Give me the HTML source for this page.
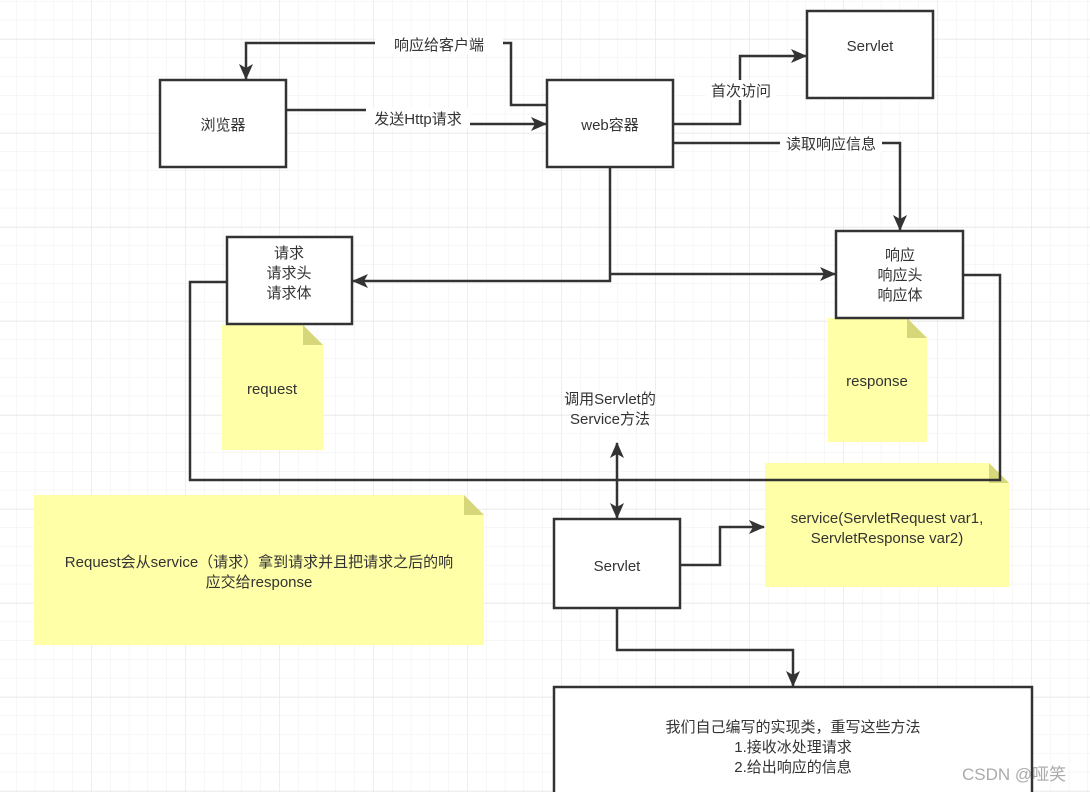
<!DOCTYPE html>
<html><head><meta charset="utf-8"><style>
html,body{margin:0;padding:0;background:#fff;}
svg{display:block;}
text{font-family:"Liberation Sans","Noto Sans CJK SC",sans-serif;font-size:15px;fill:#333;}
</style></head><body>
<svg width="1090" height="792" viewBox="0 0 1090 792" xmlns="http://www.w3.org/2000/svg">
<defs>
<pattern id="g" x="16" y="1" width="18.8" height="18.8" patternUnits="userSpaceOnUse">
<path d="M0 0H18.8M0 0V18.8" stroke="#efefef" stroke-width="1" fill="none"/>
</pattern>
<pattern id="G" x="91" y="39" width="94" height="94" patternUnits="userSpaceOnUse">
<path d="M0 0H94M0 0V94" stroke="#e6e6e6" stroke-width="1.2" fill="none"/>
</pattern>
<marker id="a" markerWidth="16" markerHeight="14" refX="15" refY="7" orient="auto" markerUnits="userSpaceOnUse"><path d="M0 0L16 7L0 14L4 7Z" fill="#333"/></marker>
</defs>
<rect width="1090" height="792" fill="url(#g)"/>
<rect width="1090" height="792" fill="url(#G)"/>

<g fill="#ffffa8">
<path d="M222 325H303L323 345V450H222Z"/>
<path d="M828 318H907L927 338V442H828Z"/>
<path d="M34 495H464L484 515V645H34Z"/>
<path d="M765 463H989L1009 483V587H765Z"/>
</g>
<g fill="#d6d67a">
<path d="M303 325L323 345H303Z"/><path d="M907 318L927 338H907Z"/>
<path d="M464 495L484 515H464Z"/><path d="M989 463L1009 483H989Z"/>
</g>

<g stroke="#333" stroke-width="2.5" fill="none">
<path d="M547 105H511V43H246V79" marker-end="url(#a)"/>
<path d="M286 110H440V124H546" marker-end="url(#a)"/>
<path d="M673 124H740V56H806" marker-end="url(#a)"/>
<path d="M673 143H900V230" marker-end="url(#a)"/>
<path d="M610 167V281H353" marker-end="url(#a)"/>
<path d="M610 274H835" marker-end="url(#a)"/>
<path d="M227 282H190V480H1000V275H963"/>
<path d="M617 480V443" marker-end="url(#a)"/>
<path d="M617 480V518" marker-end="url(#a)"/>
<path d="M680 565H720V527H764" marker-end="url(#a)"/>
<path d="M617 608V650H793V686" marker-end="url(#a)"/>
</g>

<g fill="#fff" stroke="#333" stroke-width="2.5">
<rect x="160" y="80" width="126" height="87"/>
<rect x="547" y="80" width="126" height="87"/>
<rect x="807" y="11" width="126" height="87"/>
<rect x="227" y="237" width="125" height="87"/>
<rect x="836" y="231" width="127" height="87"/>
<rect x="554" y="519" width="126" height="89"/>
<rect x="554" y="687" width="478" height="110"/>
</g>

<g fill="#fff">
<rect x="375" y="36" width="128" height="18"/>
<rect x="366" y="108" width="104" height="20"/>
<rect x="706" y="80" width="70" height="20"/>
<rect x="780" y="135" width="102" height="18"/>
</g>

<g text-anchor="middle">
<text x="439" y="50">响应给客户端</text>
<text x="418" y="124">发送Http请求</text>
<text x="741" y="96">首次访问</text>
<text x="831" y="149">读取响应信息</text>
<text x="223" y="130">浏览器</text>
<text x="610" y="130">web容器</text>
<text x="870" y="51">Servlet</text>
<text x="289" y="258">请求</text>
<text x="289" y="278">请求头</text>
<text x="289" y="298">请求体</text>
<text x="900" y="260">响应</text>
<text x="900" y="280">响应头</text>
<text x="900" y="300">响应体</text>
<text x="272" y="394">request</text>
<text x="877" y="386">response</text>
<text x="610" y="404">调用Servlet的</text>
<text x="610" y="424">Service方法</text>
<text x="259" y="567">Request会从service（请求）拿到请求并且把请求之后的响</text>
<text x="259" y="587">应交给response</text>
<text x="887" y="523">service(ServletRequest var1,</text>
<text x="887" y="543">ServletResponse var2)</text>
<text x="617" y="571">Servlet</text>
<text x="793" y="732">我们自己编写的实现类，重写这些方法</text>
<text x="793" y="752">1.接收冰处理请求</text>
<text x="793" y="772">2.给出响应的信息</text>
</g>
<text x="962" y="780" style="font-size:17px;fill:#aaa">CSDN @哑笑</text>
</svg>
</body></html>
